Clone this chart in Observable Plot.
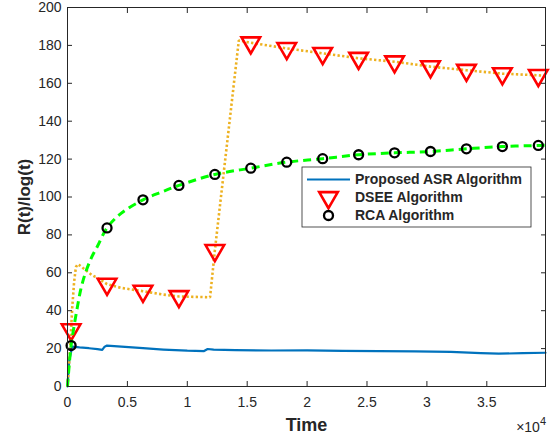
<!DOCTYPE html>
<html>
<head>
<meta charset="utf-8">
<script src="https://cdn.jsdelivr.net/npm/d3@7"></script>
<script src="https://cdn.jsdelivr.net/npm/@observablehq/plot@0.6"></script>
<style>
  html, body { margin: 0; padding: 0; background: white; }
  #chart { width: 558px; height: 438px; }
</style>
</head>
<body>
<div id="chart"></div>
<script>
// ---- Data ----
const asrT = [0, 150, 400, 1000, 1800, 2500, 2900, 3100, 3300, 4500, 6300, 8000, 10000, 11400, 11700, 12200, 14000, 17000, 20000, 23000, 26000, 29000, 32000, 34500, 36000, 38000, 39900];
const asrV = [0, 14, 21, 20.6, 20.2, 19.7, 19.3, 21, 21.6, 21, 20.2, 19.5, 18.9, 18.7, 19.8, 19.5, 19.2, 19, 19.1, 18.8, 18.7, 18.5, 18.3, 17.6, 17.3, 17.6, 17.8];

const dseeT = [0, 200, 300, 400, 550, 700, 850, 1000, 1500, 2000, 2700, 3300, 4500, 6300, 8000, 9300, 11900, 12300, 14300, 15300, 18300, 21300, 24300, 27300, 30300, 33300, 36300, 39300, 39900];
const dseeV = [0, 18, 30, 42, 55, 63, 64.5, 64, 61.5, 59, 56.5, 54, 52, 50.3, 48.5, 47.5, 47.1, 71.8, 182.6, 181.4, 178.4, 175.8, 173.2, 171.4, 168.8, 166.9, 165.1, 164.2, 163.9];

const rcaT = [0, 150, 300, 500, 800, 1100, 1500, 2000, 2500, 3300, 4500, 6300, 7800, 9300, 12300, 15300, 18300, 21300, 24300, 27300, 30300, 33300, 36300, 39300, 39900];
const rcaV = [0, 12, 21.6, 30, 41, 51, 60, 68, 74, 83.7, 91.5, 98.5, 102.5, 106.1, 111.9, 115.2, 118.4, 120.2, 122.3, 123.3, 124, 125.4, 126.6, 127.2, 127.3];

const markerTimes = [300, 3300, 6300, 9300, 12300, 15300, 18300, 21300, 24300, 27300, 30300, 33300, 36300, 39300];

const xTicks = [0, 5000, 10000, 15000, 20000, 25000, 30000, 35000];
const xTickLabels = ["0", "0.5", "1", "1.5", "2", "2.5", "3", "3.5"];
const yTicks = [0, 20, 40, 60, 80, 100, 120, 140, 160, 180, 200];

const seriesNames = ["Proposed ASR Algorithm", "DSEE Algorithm", "RCA Algorithm"];

// ---- Build tables ----
const rows = (T, V) => T.map((t, i) => ({t, v: V[i]}));
const asr = rows(asrT, asrV);
const dsee = rows(dseeT, dseeV);
const rca = rows(rcaT, rcaV);
const dseeMarks = dsee.filter(d => markerTimes.includes(d.t));
const rcaMarks = rca.filter(d => markerTimes.includes(d.t));

// downward triangle symbol (centroid-centred, like d3.symbolTriangle flipped)
const sqrt3 = Math.sqrt(3);
const triangleDown = {
  draw(context, size) {
    const y = Math.sqrt(size / (sqrt3 * 3));
    context.moveTo(0, y * 2);
    context.lineTo(-sqrt3 * y, -y);
    context.lineTo(sqrt3 * y, -y);
    context.closePath();
  }
};

const INK = "#262626";
const BLUE = "#0072BD";
const ORANGE = "#EDB120";
const GREEN = "#00FF00";
const RED = "#FF0000";
const FONT = "'Liberation Sans', Arial, Helvetica, sans-serif";

const plot = Plot.plot({
  width: 558,
  height: 438,
  marginLeft: 67,
  marginRight: 13,
  marginTop: 7,
  marginBottom: 52,
  x: {domain: [0, 39900], label: null},
  y: {domain: [0, 200], label: null},
  style: {fontFamily: FONT, color: INK, background: "white", overflow: "visible"},
  marks: [
    Plot.line(asr, {x: "t", y: "v", stroke: BLUE, strokeWidth: 2.2}),
    Plot.line(dsee, {x: "t", y: "v", stroke: ORANGE, strokeWidth: 2.6, strokeDasharray: "2.3,2.3", strokeLinecap: "butt", strokeLinejoin: "miter"}),
    Plot.dot(dseeMarks, {x: "t", y: "v", symbol: triangleDown, r: 6.9, stroke: RED, strokeWidth: 2.6, fill: "none"}),
    Plot.line(rca, {x: "t", y: "v", stroke: GREEN, strokeWidth: 3, strokeDasharray: "8,5", strokeLinecap: "butt", curve: "catmull-rom"}),
    Plot.dot(rcaMarks, {x: "t", y: "v", r: 4.5, stroke: "black", strokeWidth: 2.3, fill: "none"}),
    Plot.frame({stroke: INK, strokeWidth: 1}),
    Plot.axisX(xTicks, {anchor: "bottom", tickSize: 0, tickPadding: 11, fontSize: 14, label: null,
      tickFormat: d => xTickLabels[xTicks.indexOf(d)]}),
    Plot.axisX(xTicks, {anchor: "bottom", tickSize: -5, tickFormat: () => "", label: null}),
    Plot.axisX(xTicks, {anchor: "top", tickSize: -5, tickFormat: () => "", label: null}),
    Plot.axisY(yTicks, {anchor: "left", tickSize: 0, tickPadding: 6, fontSize: 14, label: null}),
    Plot.axisY(yTicks, {anchor: "left", tickSize: -5, tickFormat: () => "", label: null}),
    Plot.axisY(yTicks, {anchor: "right", tickSize: -5, tickFormat: () => "", label: null}),
    Plot.text(["Time"], {frameAnchor: "bottom", dy: 39, fontSize: 18, fontWeight: "bold",
      textAnchor: "middle", lineAnchor: "middle", fill: INK}),
    Plot.text(["R(t)/log(t)"], {frameAnchor: "left", dx: -43, rotate: -90, fontSize: 17, fontWeight: "bold",
      textAnchor: "middle", lineAnchor: "middle", fill: INK})
  ]
});

document.getElementById("chart").appendChild(plot);

// ---- ×10^4 exponent label and legend ----
const svg = d3.select(plot);
const ex = svg.append("text")
  .attr("x", 546).attr("y", 432)
  .attr("text-anchor", "end")
  .attr("fill", INK)
  .style("font-family", FONT);
ex.append("tspan").attr("font-size", 14).text("\u00d710");
ex.append("tspan").attr("font-size", 11).attr("dy", -7).text("4");

const lg = svg.append("g").style("font-family", FONT).attr("text-anchor", "start");
lg.append("rect").attr("x", 302).attr("y", 167).attr("width", 229).attr("height", 60)
  .attr("fill", "white").attr("stroke", INK).attr("stroke-width", 0.8);
const rowY = [179.5, 197.5, 215.5];
lg.append("line").attr("x1", 307).attr("x2", 350).attr("y1", rowY[0]).attr("y2", rowY[0])
  .attr("stroke", BLUE).attr("stroke-width", 2.2);
lg.append("path").attr("d", d3.symbol(triangleDown, Math.PI * 6.9 * 6.9)())
  .attr("transform", `translate(328.5,${rowY[1]})`)
  .attr("fill", "none").attr("stroke", RED).attr("stroke-width", 2.6);
lg.append("circle").attr("cx", 328.5).attr("cy", rowY[2]).attr("r", 4.5)
  .attr("fill", "none").attr("stroke", "black").attr("stroke-width", 2.3);
seriesNames.forEach((name, i) => {
  lg.append("text").attr("x", 355).attr("y", rowY[i]).attr("dy", "0.35em")
    .attr("text-anchor", "start")
    .attr("font-size", 14).attr("font-weight", "bold").attr("fill", INK).text(name);
});
</script>
</body>
</html>
